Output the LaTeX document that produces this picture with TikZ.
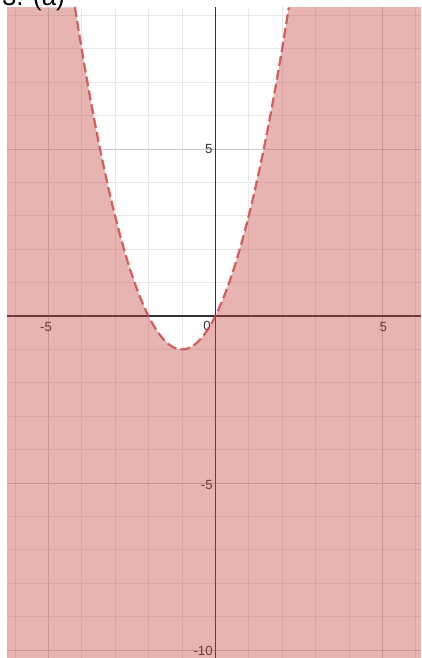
\documentclass[tikz,border=0pt]{standalone}
\usepackage{fontspec}
\setmainfont{Liberation Sans}
\usetikzlibrary{positioning}
\definecolor{dsred}{HTML}{C74440}
\definecolor{dsminor}{HTML}{E8E8E8}
\definecolor{dsmajor}{HTML}{CACACA}
\definecolor{dsaxis}{HTML}{333333}

\begin{document}
\begin{tikzpicture}[
  x=1cm, y=1cm,
  minor/.style={draw=dsminor, line width=0.55pt},
  major/.style={draw=dsmajor, line width=0.7pt},
  axisline/.style={draw=dsaxis, line width=1.1pt},
  ticklbl/.style={font=\fontsize{11.3pt}{13pt}\selectfont, text=dsaxis, inner sep=0pt},
  region/.style={fill=dsred, fill opacity=0.4},
  bound/.style={draw=dsred, draw opacity=0.8, line width=1.9pt, dash pattern=on 8.5pt off 3.5pt},
  heading/.style={font=\fontsize{22pt}{26pt}\selectfont, text=black, inner sep=0pt}
]
\useasboundingbox (-6.446,-10.240) rectangle (6.159,9.461);
\clip (-6.446,-10.240) rectangle (6.159,9.461);
\fill[white] (-6.446,-10.240) rectangle (6.159,9.461);
% grid
\foreach \i in {-6,...,6} \draw[minor] (\i,-10.24) -- (\i,9.251);
\foreach \j in {-10,...,9} \draw[minor] (-6.236,\j) -- (6.159,\j);
\foreach \i in {-5,5} \draw[major] (\i,-10.24) -- (\i,9.251);
\foreach \j in {-10,-5,5} \draw[major] (-6.236,\j) -- (6.159,\j);
% axes
\draw[axisline] (0,-10.24) -- (0,9.251);
\draw[axisline] (-6.236,0) -- (6.159,0);
% tick labels
\node[ticklbl] (xp5) at (5.03,-0.32) {5};
\node[ticklbl] (xm5) at (-5.0,-0.32) {\makebox[0pt][r]{-}5};
\node[ticklbl, anchor=east] (orig) at (-0.13,-0.30) {0};
\node[ticklbl, anchor=east] (yp5) at (-0.08,5) {5};
\node[ticklbl, anchor=east] (ym5) at (-0.07,-5.05) {-5};
\node[ticklbl, anchor=east] (ym10) at (-0.07,-10.02) {-10};
% shaded side, y < x^2+2x
\fill[region] (-6.236,9.251) -- (-6.236,-10.24) -- (6.159,-10.24) -- (6.159,9.251) -- (2.2016,9.251)
  -- plot[domain=2.2016:-4.2016, samples=140, smooth] (\x,{\x*\x+2*\x}) -- cycle;
\draw[bound] plot[domain=-4.2016:2.2016, samples=140, smooth] (\x,{\x*\x+2*\x});
% heading
\node[heading, anchor=base west] (title) at (-6.39,9.31) {3. (a)};
\end{tikzpicture}
\end{document}
